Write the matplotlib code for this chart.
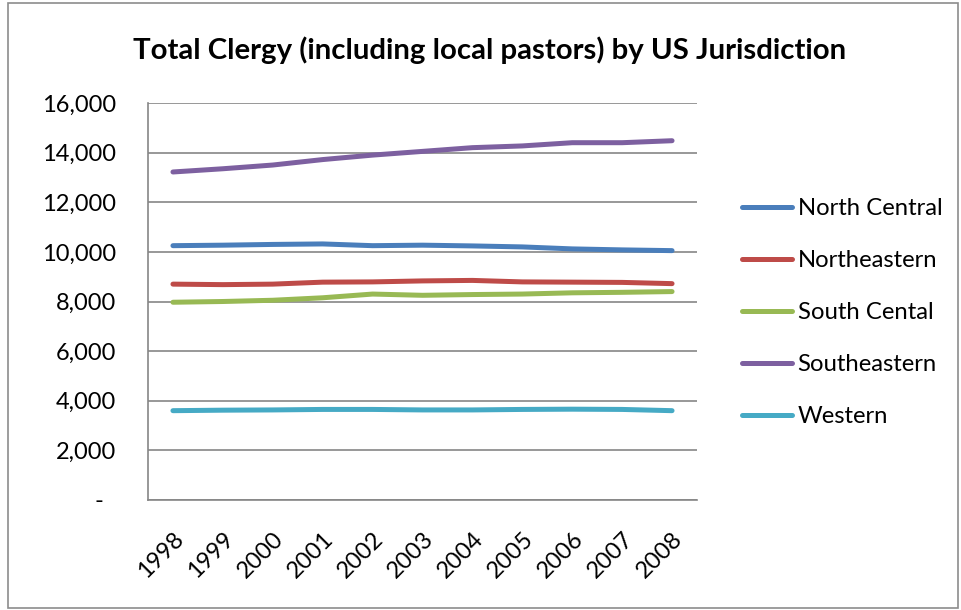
import matplotlib
matplotlib.use("Agg")
import matplotlib.pyplot as plt
from matplotlib.patches import Rectangle
from matplotlib.ticker import FixedLocator

plt.rcParams['font.family'] = ['Lato', 'DejaVu Sans']

years = ['1998', '1999', '2000', '2001', '2002', '2003', '2004', '2005', '2006', '2007', '2008']
series_names = ['North Central', 'Northeastern', 'South Cental', 'Southeastern', 'Western']
north_central = [10250, 10270, 10300, 10320, 10250, 10270, 10240, 10200, 10120, 10080, 10050]
northeastern = [8700, 8680, 8700, 8780, 8790, 8830, 8850, 8790, 8780, 8770, 8720]
south_central = [7970, 8000, 8050, 8150, 8300, 8250, 8280, 8300, 8350, 8370, 8400]
southeastern = [13220, 13350, 13500, 13720, 13900, 14050, 14200, 14270, 14400, 14400, 14480]
western = [3600, 3620, 3630, 3650, 3650, 3630, 3630, 3650, 3660, 3650, 3600]
colors = ['#4A7EBB', '#BE4B48', '#98B954', '#7D60A0', '#46AAC5']
y_ticks = [0, 2000, 4000, 6000, 8000, 10000, 12000, 14000, 16000]
y_labels = ['-  '] + [f'{v:,}' for v in y_ticks[1:]]

fig = plt.figure(figsize=(9.61, 6.10), dpi=100)
fig.patch.set_facecolor('white')

# chart-area border
fig.add_artist(Rectangle((8 / 961, 2 / 610), 950 / 961, 605 / 610, transform=fig.transFigure,
                         fill=False, edgecolor='#8C8C8C', linewidth=1.2))

ax = fig.add_axes([148 / 961, 1 - 500 / 610, 549 / 961, 397 / 610])
x = list(range(len(years)))
for name, vals, c in zip(series_names,
                         [north_central, northeastern, south_central, southeastern, western],
                         colors):
    ax.plot(x, vals, color=c, linewidth=3.6, solid_capstyle='round', label=name)

ax.set_xlim(-0.5, len(years) - 0.5)
ax.set_ylim(0, 16000)
ax.yaxis.set_major_locator(FixedLocator(y_ticks))
ax.set_yticklabels(y_labels)
ax.set_xticks(x)
ax.set_xticklabels(years, rotation=45, ha='right', va='top', rotation_mode='anchor')
ax.tick_params(axis='y', length=0, pad=23, labelsize=17)
ax.tick_params(axis='x', length=0, pad=20, labelsize=17)
ax.grid(axis='y', color='#868686', linewidth=1.2)
ax.set_axisbelow(True)
for side in ['top', 'right']:
    ax.spines[side].set_visible(False)
for side in ['left', 'bottom']:
    ax.spines[side].set_color('#868686')
    ax.spines[side].set_linewidth(1.2)

fig.text(490 / 961, 1 - 50 / 610, 'Total Clergy (including local pastors) by US Jurisdiction',
         ha='center', va='center', fontsize=21.2, fontweight='bold')

leg = fig.legend(loc='upper left', bbox_to_anchor=(732 / 961, 1 - 188.5 / 610), frameon=False,
                 fontsize=17.2, handlelength=2.1, handletextpad=0.25, labelspacing=1.3,
                 borderaxespad=0)

fig.savefig('out.png', dpi=100)
